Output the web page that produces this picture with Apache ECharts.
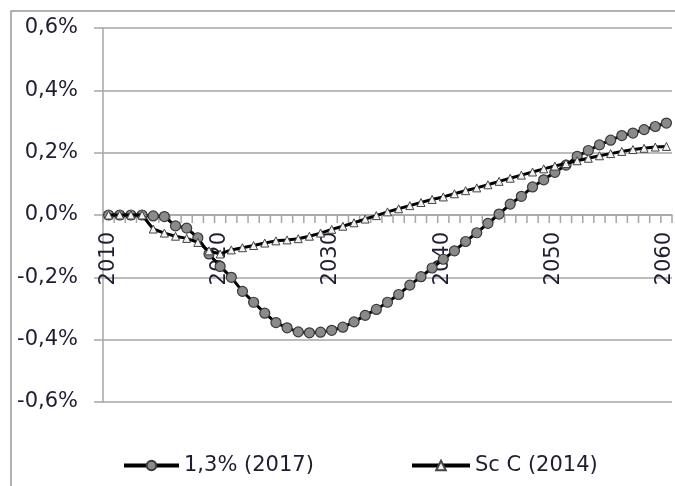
<!DOCTYPE html>
<html>
<head>
<meta charset="utf-8">
<script src="https://cdn.jsdelivr.net/npm/echarts@6/dist/echarts.min.js"></script>
<style>
  html, body { margin: 0; padding: 0; background: #fff; }
  #chart { width: 675px; height: 486px; }
</style>
</head>
<body>
<div id="chart"></div>
<script>
// years on the category axis
const years = [
  "2010", "2011", "2012", "2013", "2014", "2015", "2016", "2017", "2018", "2019",
  "2020", "2021", "2022", "2023", "2024", "2025", "2026", "2027", "2028", "2029",
  "2030", "2031", "2032", "2033", "2034", "2035", "2036", "2037", "2038", "2039",
  "2040", "2041", "2042", "2043", "2044", "2045", "2046", "2047", "2048", "2049",
  "2050", "2051", "2052", "2053", "2054", "2055", "2056", "2057", "2058", "2059",
  "2060"
];

// values in percent
const series2017 = [
  0, 0, 0, 0, -0.003, -0.005, -0.035, -0.042, -0.073, -0.125,
  -0.165, -0.2, -0.245, -0.28, -0.315, -0.345, -0.362, -0.375, -0.378, -0.376,
  -0.37, -0.36, -0.343, -0.322, -0.303, -0.28, -0.255, -0.225, -0.198, -0.17,
  -0.142, -0.115, -0.085, -0.057, -0.027, 0.003, 0.035, 0.06, 0.09, 0.113,
  0.137, 0.16, 0.188, 0.207, 0.225, 0.24, 0.255, 0.263, 0.274, 0.284,
  0.295
];

const seriesC2014 = [
  0, 0, 0, 0, -0.045, -0.058, -0.068, -0.075, -0.088, -0.115,
  -0.125, -0.112, -0.105, -0.098, -0.09, -0.083, -0.08, -0.076, -0.068, -0.058,
  -0.046, -0.036, -0.025, -0.013, -0.002, 0.01, 0.02, 0.03, 0.04, 0.05,
  0.058, 0.068, 0.078, 0.087, 0.097, 0.108, 0.118, 0.128, 0.138, 0.148,
  0.157, 0.165, 0.174, 0.182, 0.19, 0.197, 0.204, 0.21, 0.214, 0.218,
  0.22
];

const seriesNames = ["1,3% (2017)", "Sc C (2014)"];

const yMin = -0.6;
const yMax = 0.6;
const yStep = 0.2;

const font = "DejaVu Sans";
const textColor = "#1e1e32";
const gridColor = "#a6a6a6";

let ec = echarts.init(document.getElementById("chart"));

// tick marks between the years, hanging under the 0,0% line
function renderYearTick(params, api) {
  const idx = api.value(0);
  const p = api.coord([idx, 0]);
  const band = api.size([1, 0])[0];
  const style = { stroke: gridColor, lineWidth: 1.5 };
  const children = [
    {
      type: "line",
      shape: { x1: p[0] - band / 2, y1: p[1], x2: p[0] - band / 2, y2: p[1] + 8 },
      style: style
    }
  ];
  if (idx === years.length - 1) {
    children.push({
      type: "line",
      shape: { x1: p[0] + band / 2, y1: p[1], x2: p[0] + band / 2, y2: p[1] + 8 },
      style: style
    });
  }
  return { type: "group", children: children };
}

ec.setOption({
  animation: false,
  textStyle: { fontFamily: font },
  // chart frame, cut off at right and bottom like the original
  graphic: [
    {
      type: "rect",
      shape: { x: 11, y: 11, width: 700, height: 500 },
      style: { fill: "none", stroke: "#999", lineWidth: 1.5 }
    }
  ],
  // grid 0 holds the data, grid 1 (upper half) only puts the year labels under 0,0%
  grid: [
    { left: 103, right: 3, top: 28, bottom: 84 },
    { left: 103, right: 3, top: 28, bottom: 272 }
  ],
  legend: [
    {
      data: [seriesNames[0]],
      left: 117,
      top: 450,
      itemWidth: 55,
      itemHeight: 12,
      lineStyle: { width: 4, color: "#000" },
      textStyle: { color: textColor, fontSize: 21, fontFamily: font }
    },
    {
      data: [seriesNames[1]],
      left: 405,
      top: 450,
      itemWidth: 58,
      itemHeight: 12,
      lineStyle: { width: 4, color: "#000" },
      textStyle: { color: textColor, fontSize: 21, fontFamily: font }
    }
  ],
  xAxis: [
    {
      gridIndex: 0,
      type: "category",
      data: years,
      axisLine: {
        show: true,
        onZero: true,
        lineStyle: { color: gridColor, width: 1.5 }
      },
      axisTick: { show: false },
      axisLabel: { show: false },
      splitLine: { show: false }
    },
    {
      // year labels
      gridIndex: 1,
      type: "category",
      data: years,
      position: "bottom",
      axisLine: { show: false, onZero: false },
      axisTick: { show: false },
      axisLabel: {
        interval: 9,
        rotate: 90,
        margin: 18,
        color: textColor,
        fontSize: 21,
        fontFamily: font,
        hideOverlap: false
      },
      splitLine: { show: false }
    }
  ],
  yAxis: [
    {
      gridIndex: 0,
      type: "value",
      min: yMin,
      max: yMax,
      interval: yStep,
      axisLine: {
        show: true,
        lineStyle: { color: gridColor, width: 1.5 }
      },
      axisTick: {
        show: true,
        length: 9,
        lineStyle: { color: gridColor, width: 1.5 }
      },
      axisLabel: {
        margin: 25,
        color: textColor,
        fontSize: 21,
        fontFamily: font,
        formatter: function (v) {
          return v.toFixed(1).replace(".", ",").replace("-0,0", "0,0") + "%";
        }
      },
      splitLine: {
        show: true,
        lineStyle: { color: gridColor, width: 1.5 }
      }
    },
    {
      gridIndex: 1,
      type: "value",
      min: 0,
      max: 1,
      axisLine: { show: false },
      axisTick: { show: false },
      axisLabel: { show: false },
      splitLine: { show: false }
    }
  ],
  series: [
    {
      type: "custom",
      xAxisIndex: 0,
      yAxisIndex: 0,
      silent: true,
      z: 1,
      encode: { x: 0, y: 1 },
      data: years.map(function (y, i) { return [i, 0]; }),
      renderItem: renderYearTick
    },
    {
      name: seriesNames[0],
      type: "line",
      xAxisIndex: 0,
      yAxisIndex: 0,
      data: series2017,
      symbol: "circle",
      symbolSize: 10,
      showSymbol: true,
      showAllSymbol: true,
      z: 3,
      lineStyle: { color: "#000", width: 3 },
      itemStyle: { color: "#8a8a8a", borderColor: "#3a3a3a", borderWidth: 1.2 }
    },
    {
      name: seriesNames[1],
      type: "line",
      xAxisIndex: 0,
      yAxisIndex: 0,
      data: seriesC2014,
      symbol: "triangle",
      symbolSize: 8,
      showSymbol: true,
      showAllSymbol: true,
      z: 4,
      lineStyle: { color: "#000", width: 3 },
      itemStyle: { color: "#f2f2f2", borderColor: "#444", borderWidth: 1 }
    }
  ]
});
</script>
</body>
</html>
